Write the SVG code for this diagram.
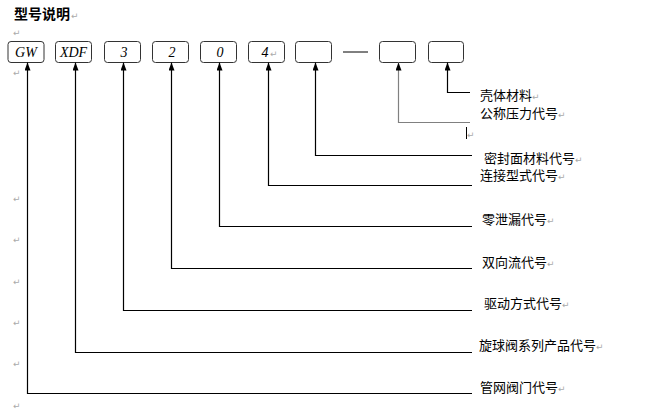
<svg xmlns="http://www.w3.org/2000/svg" width="670" height="412" viewBox="0 0 670 412">
<style>
.box{fill:#fff;stroke:#333;stroke-width:1;}
.code{font-family:"Liberation Serif",serif;font-style:italic;font-size:14px;fill:#000;text-anchor:middle;}
.lbl{font-family:"Noto Sans CJK SC","Noto Sans",sans-serif;font-size:13px;fill:#000;}
.ret{font-family:"DejaVu Sans",sans-serif;font-size:9px;fill:#aaa;}
.con{fill:none;stroke:#000;stroke-width:1.2;marker-end:url(#arr);}
</style>
<defs>
<marker id="arr" viewBox="0 0 8 6" refX="8" refY="3" markerWidth="8" markerHeight="6" markerUnits="userSpaceOnUse" orient="auto">
<path d="M0,0 L8,3 L0,6 z" fill="#000"/>
</marker>
</defs>
<rect width="670" height="412" fill="#fff"/>
<text x="14" y="19" font-family="'Noto Sans CJK SC',sans-serif" font-size="14" font-weight="bold">型号说明</text>
<text class="ret" x="71" y="19">↵</text>
<text class="ret" x="13" y="36">↵</text>
<text class="ret" x="13" y="76">↵</text>
<g class="ret">
<text x="13" y="202">↵</text>
<text x="13" y="243">↵</text>
<text x="13" y="285">↵</text>
<text x="13" y="326">↵</text>
<text x="13" y="367">↵</text>
<text x="13" y="409">↵</text>
</g>
<g id="n-gw"><rect class="box" x="8" y="41.5" width="36" height="21" rx="3"/><text class="code" x="26" y="57">GW</text></g>
<g id="n-xdf"><rect class="box" x="55.5" y="41.5" width="36" height="21" rx="3"/><text class="code" x="73.5" y="57">XDF</text></g>
<g id="n-3"><rect class="box" x="104.5" y="41.5" width="36" height="21" rx="3"/><text class="code" x="124" y="57">3</text></g>
<g id="n-2"><rect class="box" x="152.5" y="41.5" width="36" height="21" rx="3"/><text class="code" x="172" y="57">2</text></g>
<g id="n-0"><rect class="box" x="200.5" y="41.5" width="36" height="21" rx="3"/><text class="code" x="220" y="57">0</text></g>
<g id="n-4"><rect class="box" x="248.5" y="41.5" width="36" height="21" rx="3"/><text class="code" x="265" y="57">4</text><text class="ret" x="270" y="57">↵</text></g>
<g id="n-e1"><rect class="box" x="295.5" y="41.5" width="36" height="21" rx="3"/></g>
<line x1="343" y1="52" x2="368" y2="52" stroke="#000" stroke-width="1"/>
<g id="n-e2"><rect class="box" x="379.5" y="41.5" width="36" height="21" rx="3"/></g>
<g id="n-e3"><rect class="box" x="428.5" y="41.5" width="35" height="21" rx="3"/></g>
<g id="connectors">
<path class="con" d="M470,92.5 H447.5 V62.5"/>
<path class="con" d="M470,122.5 H398.5 V62.5" style="stroke:#808080"/>
<path class="con" d="M472,155.5 H315.5 V62.5"/>
<path class="con" d="M472,185.5 H268.5 V62.5"/>
<path class="con" d="M472,226.5 H219.5 V62.5"/>
<path class="con" d="M472,268.5 H171.5 V62.5"/>
<path class="con" d="M472,310.5 H123.5 V62.5"/>
<path class="con" d="M472,352.5 H75.5 V62.5"/>
<path class="con" d="M472,393.5 H27.5 V62.5"/>
</g>
<line x1="466.5" y1="127" x2="466.5" y2="139" stroke="#000" stroke-width="1"/>
<text class="ret" x="467" y="138">↵</text>
<g id="labels">
<text class="lbl" x="480" y="99.5">壳体材料<tspan class="ret">↵</tspan></text>
<text class="lbl" x="480" y="117.5">公称压力代号<tspan class="ret">↵</tspan></text>
<text class="lbl" x="484" y="162.5">密封面材料代号<tspan class="ret">↵</tspan></text>
<text class="lbl" x="480" y="179.5">连接型式代号<tspan class="ret">↵</tspan></text>
<text class="lbl" x="482" y="224">零泄漏代号<tspan class="ret">↵</tspan></text>
<text class="lbl" x="482" y="267">双向流代号<tspan class="ret">↵</tspan></text>
<text class="lbl" x="484" y="308">驱动方式代号<tspan class="ret">↵</tspan></text>
<text class="lbl" x="479" y="350">旋球阀系列产品代号<tspan class="ret">↵</tspan></text>
<text class="lbl" x="480" y="392">管网阀门代号<tspan class="ret">↵</tspan></text>
</g>
</svg>
